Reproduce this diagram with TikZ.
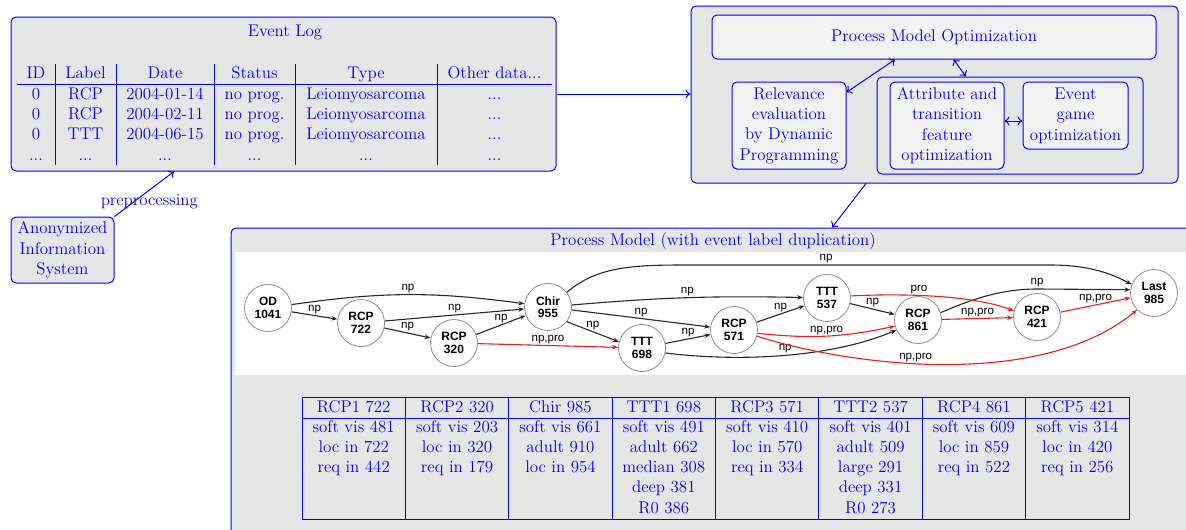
\documentclass[tikz,border=0pt]{standalone}
\usepackage{fontspec}
\newfontfamily\lmtw{lmroman12-regular.otf}
\newfontfamily\gsans{Liberation Sans}
\usetikzlibrary{arrows.meta}
\definecolor{bl}{RGB}{0,0,255}
\definecolor{boxgray}{RGB}{230,230,230}
\definecolor{light}{RGB}{242,242,242}
\definecolor{edgec}{RGB}{40,40,40}
\definecolor{redE}{RGB}{235,30,30}
\definecolor{ring}{RGB}{140,140,140}
\newcommand\threedots{...}
\begin{document}
\begin{tikzpicture}[x=1pt,y=-1pt,
  every node/.style={text=bl, font=\lmtw\fontsize{16.9}{20.4}\selectfont},
  frame/.style={draw=bl, line width=1pt, rounded corners=5pt, fill=boxgray, inner sep=0pt},
  sub/.style={draw=bl, line width=1pt, rounded corners=5pt, fill=light, align=center, inner sep=0pt},
  bline/.style={draw=bl, line width=0.9pt},
  barrow/.style={draw=bl, line width=1pt, -{To[length=5pt,width=9pt]}},
  bbarrow/.style={draw=bl, line width=1pt, {To[length=5pt,width=9pt]}-{To[length=5pt,width=9pt]}},
  cell/.style={anchor=base, inner sep=0pt},
  gnode/.style={circle, draw=ring, fill=white, line width=0.8pt, minimum size=47pt, inner sep=0pt, align=center, text=black, font=\gsans\bfseries\fontsize{12}{12.5}\selectfont},
  lab/.style={text=black, font=\gsans\fontsize{11.6}{12}\selectfont, inner sep=1.5pt},
  ge/.style={draw=edgec, line width=1.1pt, -{Stealth[length=6pt,width=4.5pt]}},
  re/.style={ge, draw=redE},
]
\useasboundingbox (0,0) rectangle (1186,530);
\clip (0,0) rectangle (1186,530);

% ---------------- Event log
\node[frame, minimum width=545pt, minimum height=154pt] (log) at (283.5,94) {};
\node (logtitle) at (285,32) {Event Log};
\draw[bline] (17,84) -- (552,84);
\foreach \x in {55,116,214,295,437} \draw[bline] (\x,64) -- (\x,165);
\foreach \r/\yy/\a/\b/\c/\d/\e/\f in {
  0/78/ID/Label/Date/Status/Type/Other data\threedots,
  1/99.5/0/RCP/2004-01-14/no prog./Leiomyosarcoma/\threedots,
  2/119.5/0/RCP/2004-02-11/no prog./Leiomyosarcoma/\threedots,
  3/139.5/0/TTT/2004-06-15/no prog./Leiomyosarcoma/\threedots,
  4/160/\threedots/\threedots/\threedots/\threedots/\threedots/\threedots}{
  \node[cell] (e\r-1) at (36,\yy) {\a};
  \node[cell] (e\r-2) at (85.5,\yy) {\b};
  \node[cell] (e\r-3) at (165,\yy) {\c};
  \node[cell] (e\r-4) at (254.5,\yy) {\d};
  \node[cell] (e\r-5) at (366,\yy) {\e};
  \node[cell] (e\r-6) at (494.5,\yy) {\f};
}

% ---------------- Anonymized system
\node[frame, minimum width=103pt, minimum height=66pt, align=center] (anon) at (62.5,250) {Anonymized\\Information\\System};
\draw[barrow] (anon.north east) -- node[pos=0.3, xshift=17pt, yshift=1pt, inner sep=0pt] (pre) {preprocessing} ([xshift=-109.5pt]log.south);

% ---------------- Process model optimization
\node[frame, minimum width=487pt, minimum height=177pt] (opt) at (934.5,94.5) {};
\node[sub, minimum width=444pt, minimum height=44pt] (pmo) at (934,37) {Process Model Optimization};
\node[sub, minimum width=114pt, minimum height=87pt] (rel) at (789,125.5) {Relevance\\evaluation\\by Dynamic\\Programming};
\node[draw=bl, line width=1pt, rounded corners=5pt, minimum width=266pt, minimum height=97pt, inner sep=0pt] (grp) at (1010,125.5) {};
\node[sub, minimum width=114pt, minimum height=87pt] (attr) at (947,125.5) {Attribute and\\transition\\feature\\optimization};
\node[sub, minimum width=105pt, minimum height=67pt] (evt) at (1075.5,115.5) {Event\\game\\optimization};
\draw[bbarrow] (rel.30) -- (pmo.210);
\draw[bbarrow] (pmo.311) -- (grp.132);
\draw[bbarrow] ([yshift=4.5pt]attr.east) -- ([yshift=-5.5pt]evt.west);
\draw[barrow] (log.east) -- (log.east -| opt.west);

% ---------------- Process model
\node[frame, minimum width=964pt, minimum height=340pt] (pm) at (713,398) {};
\node (pmtitle) at (713,241) {Process Model (with event label duplication)};
\node[fill=white, minimum width=960pt, minimum height=123pt, inner sep=0pt] (canvas) at (715,313.5) {};
\draw[barrow] ([xshift=-68.5pt]opt.south) -- ([xshift=119pt]pm.north);

% graph
\node[gnode] (OD) at (268,308) {OD\\1041};
\node[gnode] (R722) at (361,323) {RCP\\722};
\node[gnode] (R320) at (454,343) {RCP\\320};
\node[gnode] (Chir) at (548,307) {Chir\\955};
\node[gnode] (T698) at (642,348) {TTT\\698};
\node[gnode] (R571) at (734,330) {RCP\\571};
\node[gnode] (T537) at (827,298) {TTT\\537};
\node[gnode] (R861) at (918,320) {RCP\\861};
\node[gnode] (R421) at (1037,317) {RCP\\421};
\node[gnode] (Last) at (1154,293) {Last\\985};

\draw[ge] (OD) to[bend left=8] node[lab, above] (l1) {np} (Chir);
\draw[ge] (OD) -- node[lab, above] (l2) {np} (R722);
\draw[ge] (R722) -- node[lab, above] (l3) {np} (Chir);
\draw[ge] (R722) -- node[lab, above] (l4) {np} (R320);
\draw[ge] (R320) -- node[lab, above] (l5) {np} (Chir);
\draw[re] (R320) -- node[lab, above] (l6) {np,pro} (T698);
\draw[ge] (Chir.38) .. controls (600,264) and (640,265) .. (700,265) -- node[lab, above, pos=0.36] (l7) {np} (1050,265) .. controls (1090,265) and (1112,274) .. (Last.159);
\draw[ge] (Chir) to[bend left=3] node[lab, above] (l8) {np} (T537);
\draw[ge] (Chir) -- node[lab, above] (l9) {np} (R571);
\draw[ge] (Chir.-38) -- node[lab, above] (l10) {np} (T698.165);
\draw[ge] (T698) -- node[lab, above] (l11) {np} (R571);
\draw[ge] (T698.-12) .. controls (720,360) and (820,362) .. node[lab, above, pos=0.55] (l12) {np} (R861.205);
\draw[ge] (R571) -- node[lab, above] (l13) {np} (T537);
\draw[ge] (T537) -- node[lab, above] (l14) {np} (R861);
\draw[ge] (R861.18) .. controls (970,300) and (1000,289) .. (1037,289) -- node[lab, above, pos=0] (l15) {np} (Last.172);
\draw[re] (T537.5) .. controls (910,293) and (975,296) .. node[lab, above, pos=0.38] (l16) {pro} (R421.165);
\draw[re] (R861) -- node[lab, above] (l17) {np,pro} (R421);
\draw[re] (R421) -- node[lab, above] (l18) {np,pro} (Last);
\draw[re] (R571.-8) to[bend right=9] node[lab, above=-1pt] (l19) {np,pro} (R861.195);
\draw[re] (R571.-15) .. controls (850,366) and (1040,390) .. node[lab, above, pos=0.43] (l20) {np,pro} (Last.225);

% ---------------- attribute table
\draw[bline] (302,397) rectangle (1129,519);
\draw[bline] (302,418) -- (1129,418);
\foreach \k in {1,...,7} \draw[bline] ({302+103.375*\k},397) -- ({302+103.375*\k},519);
\foreach \t [count=\k] in {RCP1 722, RCP2 320, Chir 985, TTT1 698, RCP3 571, TTT2 537, RCP4 861, RCP5 421}
  \node[cell] (h\k) at ({302+103.375*(\k-0.5)},412) {\t};
\foreach \t [count=\k] in {soft vis 481, soft vis 203, soft vis 661, soft vis 491, soft vis 410, soft vis 401, soft vis 609, soft vis 314}
  \node[cell] (a\k) at ({302+103.375*(\k-0.5)},432.3) {\t};
\foreach \t [count=\k] in {loc in 722, loc in 320, adult 910, adult 662, loc in 570, adult 509, loc in 859, loc in 420}
  \node[cell] (b\k) at ({302+103.375*(\k-0.5)},452.5) {\t};
\foreach \t [count=\k] in {req in 442, req in 179, loc in 954, median 308, req in 334, large 291, req in 522, req in 256}
  \node[cell] (c\k) at ({302+103.375*(\k-0.5)},472.7) {\t};
\node[cell] (d4) at ({302+103.375*3.5},492.9) {deep 381};
\node[cell] (d6) at ({302+103.375*5.5},492.9) {deep 331};
\node[cell] (f4) at ({302+103.375*3.5},513) {R0 386};
\node[cell] (f6) at ({302+103.375*5.5},513) {R0 273};
\end{tikzpicture}
\end{document}
